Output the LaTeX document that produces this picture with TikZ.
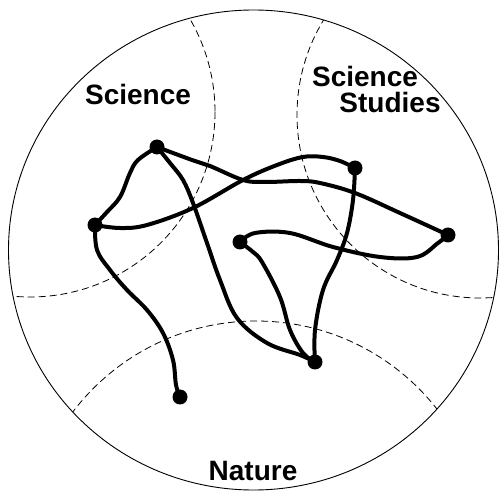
\documentclass[tikz,border=0pt]{standalone}
\usepackage{fontspec}
\setmainfont{Liberation Sans}
\begin{document}
\begin{tikzpicture}[x=1pt,y=-1pt,
  dot/.style={circle,fill=black,inner sep=0pt,minimum size=15pt},
  link/.style={line width=4pt,line cap=round,line join=round},
  zone/.style={line width=0.8pt,dash pattern=on 7pt off 4pt},
  rim/.style={line width=0.9pt},
  lbl/.style={font=\fontsize{28}{30}\selectfont\bfseries,anchor=base,inner sep=0pt}]
\useasboundingbox (0,0) rectangle (499,492);
% outer boundary
\begin{scope}
  \clip (253.5,250) ellipse [x radius=245, y radius=240];
  \draw[zone] (30,112) circle [radius=185];
  \draw[zone] (480,115) circle [radius=183];
  \draw[zone] (256,551) circle [radius=230];
\end{scope}
\draw[rim] (253.5,250) ellipse [x radius=245, y radius=240];
% labels
\node[lbl] (sci) at (138,105) {Science};
\node[lbl] (ss1) at (365,87) {Science};
\node[lbl] (ss2) at (390,113) {Studies};
\node[lbl] (nat) at (253,480) {Nature};
% nodes
\node[dot] (A) at (157,147) {};
\node[dot] (B) at (95,225) {};
\node[dot] (C) at (355,168) {};
\node[dot] (D) at (448,235) {};
\node[dot] (E) at (240,242) {};
\node[dot] (F) at (315,362) {};
\node[dot] (G) at (180,397) {};
% connectors
\draw[link] plot[smooth,tension=0.6] coordinates {(A.center) (138,160) (130,173) (120,197) (107,212) (B.center)};
\draw[link] plot[smooth,tension=0.6] coordinates {(B.center) (120,228) (147,225) (193,208) (243,180) (277,165) (303,157) (323,157) (340,161) (C.center)};
\draw[link] plot[smooth,tension=0.6] coordinates {(A.center) (192,160) (210,166) (243,180) (265,182) (300,181) (320,183) (355,193) (400,213) (D.center)};
\draw[link] plot[smooth,tension=0.6] coordinates {(A.center) (170,163) (183,180) (193,203) (207,243) (220,280) (237,318) (267,343) (300,355) (F.center)};
\draw[link] plot[smooth,tension=0.6] coordinates {(E.center) (253,252) (262,262) (280,297) (290,330) (303,353) (F.center)};
\draw[link] plot[smooth,tension=0.6] coordinates {(E.center) (255,233) (290,233) (333,247) (380,257) (417,257) (438,243) (D.center)};
\draw[link] plot[smooth,tension=0.6] coordinates {(C.center) (353,200) (347,233) (337,260) (323,290) (315,330) (F.center)};
\draw[link] plot[smooth,tension=0.6] coordinates {(B.center) (97,250) (110,270) (127,290) (147,310) (163,333) (173,360) (176,385) (G.center)};
\end{tikzpicture}
\end{document}
